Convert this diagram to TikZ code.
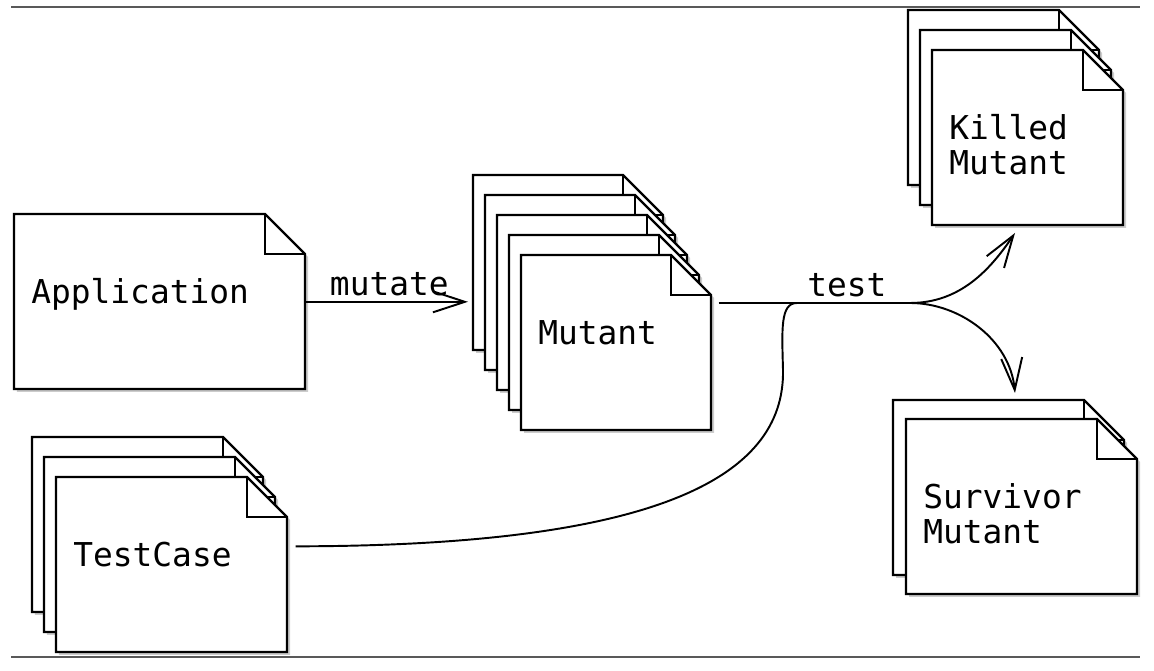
\documentclass[tikz,border=0pt]{standalone}
\usepackage{fontspec}
\newfontfamily\docfont{DejaVu Sans Mono}
\usetikzlibrary{shadows,arrows.meta,calc}

\tikzset{
	paperline/.style={draw=black, line width=1.3pt},
	doc/.style={rectangle, anchor=north west, inner xsep=0.34cm, inner ysep=0pt,
		align=left, text height=1.78cm, text depth=1.72cm,
		font=\docfont\fontsize{18.7}{19.9}\selectfont},
	flow/.style={line width=1.1pt, -{Straight Barb[length=0.64cm,width=0.42cm]}},
	lbl/.style={font=\docfont\fontsize{18.7}{19.9}\selectfont, inner sep=3pt},
	rule/.style={line width=1.2pt, draw=black!65}
}
% one sheet with a folded corner: top left x, y and width
\newcommand{\paper}[3]{%
	\draw[paperline, fill=white, drop shadow={shadow xshift=0.06cm, shadow yshift=-0.06cm, fill=black!40, opacity=0.5}]
		({#1},{#2}) -- ({#1+#3-40},{#2}) -- ({#1+#3},{#2+40}) -- ({#1+#3},{#2+175}) -- ({#1},{#2+175}) -- cycle;
	\draw[paperline] ({#1+#3-40},{#2}) |- ({#1+#3},{#2+40});
}

\begin{document}
\begin{tikzpicture}[x=0.02cm, y=-0.02cm]
	\useasboundingbox (0,0) rectangle (1154,671);
	
	\draw[rule] (11,7) -- (1140,7);
	\draw[rule] (11,657) -- (1140,657);
	
	\paper{14}{214}{291}
	\node[doc, text width=5.14cm] (app) at (14,214) {Application};
	
	\foreach \i in {4,...,0}
		\paper{521-12*\i}{255-20*\i}{190}
	\node[doc, text width=3.12cm] (mutant) at (521,255) {Mutant};
	\coordinate (mutantback) at (473,175);
	
	\foreach \i in {2,1,0}
		\paper{932-12*\i}{50-20*\i}{191}
	\node[doc, text width=3.14cm] (killed) at (932,50) {Killed\\Mutant};
	
	\foreach \i in {2,1,0}
		\paper{56-12*\i}{477-20*\i}{231}
	\node[doc, text width=3.94cm] (testcase) at (56,477) {TestCase};
	
	\paper{893}{400}{231}
	\paper{906}{419}{231}
	\node[doc, text width=3.94cm] (survivor) at (906,419) {Survivor\\Mutant};
	
	\coordinate (split) at (910,303);
	\coordinate (join) at (797,303);
	\coordinate (killedin) at (1015,233);
	\coordinate (survivorin) at (1015,393);
	
	\draw[flow, shorten >=0.1cm] (app.east) -- node[lbl, above]{mutate} (app.east -| mutantback);
	\draw[line width=1.1pt] ($(mutant.east |- split)+(7,0)$) -- node[lbl, above, pos=0.67]{test} (split);
	\draw[flow] (split) .. controls (960,303) and (990,270) .. (killedin);
	\draw[flow] (split) .. controls (960,303) and (1010,340) .. (survivorin);
	\draw[line width=1.1pt] ([xshift=0.16cm, yshift=0.37cm]testcase.east) .. controls (650,546) and (785,480) .. (783,370) .. controls (782,330) and (780,303) .. (join);
	
\end{tikzpicture}
\end{document}
